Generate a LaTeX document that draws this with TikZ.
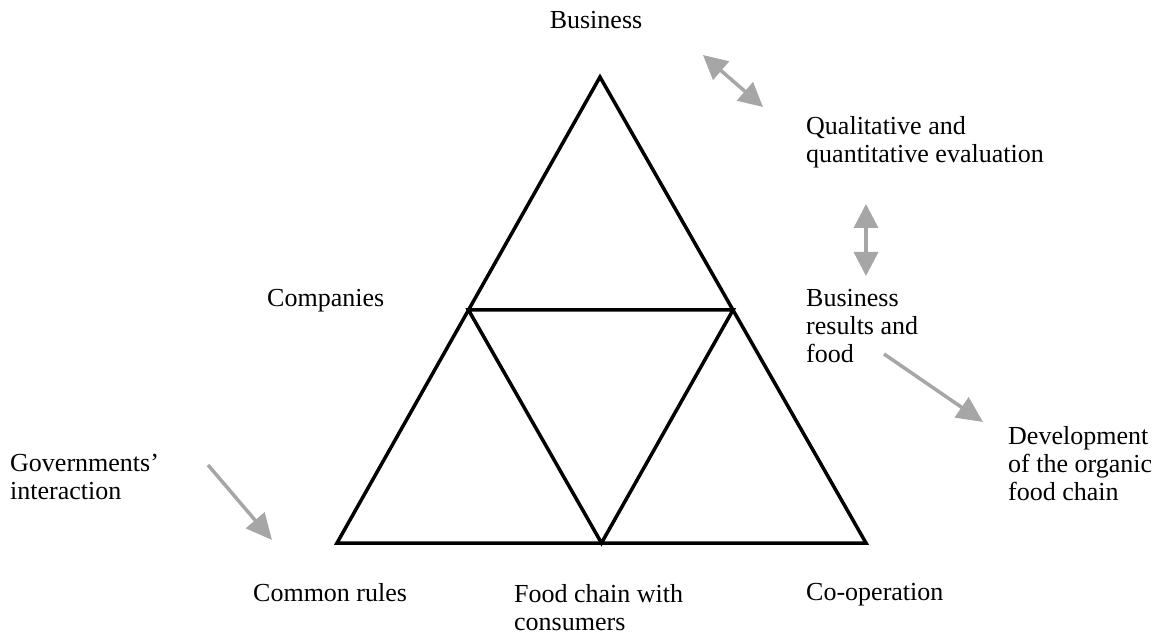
\documentclass[tikz,border=0pt]{standalone}
\usepackage{fontspec}
\setmainfont{Liberation Serif}
\usetikzlibrary{arrows.meta}
\definecolor{arrowgray}{HTML}{A6A6A6}
\tikzset{
  lbl/.style={anchor=west, align=left, inner sep=0pt, font=\fontsize{26}{28}\selectfont},
  tri/.style={line width=3.5pt, line join=miter},
  garrow/.style={draw=arrowgray, line width=3.5pt, arrows={-Triangle[width=24pt,length=26pt]}},
  gdarrow/.style={draw=arrowgray, line width=3.5pt, arrows={Triangle[width=24pt,length=24pt]-Triangle[width=24pt,length=24pt]}}
}
\begin{document}
\begin{tikzpicture}[x=1pt,y=-1pt]
\useasboundingbox (0,0) rectangle (1152,636);
% triangle corners
\coordinate (A) at (600,77);
\coordinate (B) at (337,543);
\coordinate (C) at (866,543);
\coordinate (AB) at (468.5,310);
\coordinate (AC) at (733,310);
\coordinate (BC) at (601.5,543);
\draw[tri] (A) -- (B) -- (C) -- cycle;
\draw[tri] (AB) -- (AC) -- (BC) -- cycle;
% labels
\node[lbl, anchor=center] (business) at (596,20) {Business};
\node[lbl, anchor=north west] (qual) at (806,116) {Qualitative and\\quantitative evaluation};
\node[lbl, anchor=north west] (res) at (806,289) {Business\\results and\\food};
\node[lbl, anchor=north west] (dev) at (1008,426) {Development\\of the organic\\food chain};
\node[lbl, anchor=north west] (comp) at (267,289) {Companies};
\node[lbl, anchor=north west] (gov) at (10,454) {Governments’\\interaction};
\node[lbl, anchor=north west] (rules) at (253,583) {Common rules};
\node[lbl, anchor=north west] (fcc) at (514,584) {Food chain with\\consumers};
\node[lbl, anchor=north west] (coop) at (806,583) {Co-operation};
% arrows
\coordinate (a1s) at (703,55);
\coordinate (a1e) at (763,107);
\coordinate (a2s) at (866,204);
\coordinate (a2e) at (866,276);
\coordinate (a3s) at (884,354);
\coordinate (a3e) at (983,422);
\coordinate (a4s) at (208,465);
\coordinate (a4e) at (272,540);
\draw[gdarrow] (a1s) -- (a1e);
\draw[gdarrow] (a2s) -- (a2e);
\draw[garrow] (a3s) -- (a3e);
\draw[garrow] (a4s) -- (a4e);
\end{tikzpicture}
\end{document}
